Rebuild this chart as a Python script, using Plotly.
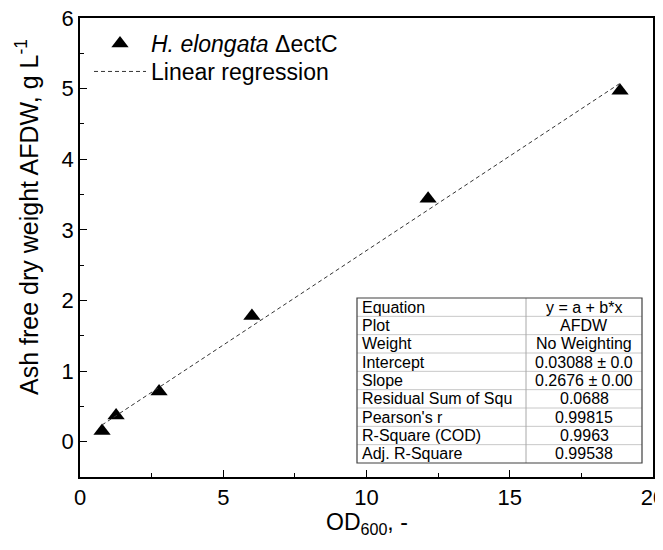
import plotly.graph_objects as go

# data
od600 = [0.77, 1.26, 2.76, 6.0, 12.15, 18.85]
afdw = [0.15, 0.37, 0.71, 1.78, 3.44, 4.97]
intercept = 0.03088
slope = 0.2676

table_labels = ["Equation", "Plot", "Weight", "Intercept", "Slope",
                "Residual Sum of Squ", "Pearson's r", "R-Square (COD)", "Adj. R-Square"]
table_values = ["y = a + b*x", "AFDW", "No Weighting", "0.03088 ± 0.0",
                "0.2676 ± 0.00", "0.0688", "0.99815", "0.9963", "0.99538"]

x_ticks = [0, 5, 10, 15, 20]
y_ticks = [0, 1, 2, 3, 4, 5, 6]

# page offset of the figure div (default body margin)
OFF = 8
W, H = 663, 534
PL, PR, PT, PB = 80, 653, 18, 477          # plot area in page pixels
L, R, T, B = PL - OFF, W - (PR - OFF), PT - OFF, H - (PB - OFF)
pw, ph = W - L - R, H - T - B

def px(x):
    return (x - OFF - L) / pw

def py(y):
    return (H - B - (y - OFF)) / ph

FONT = "Liberation Sans, Arial, sans-serif"

fig = go.Figure()
fig.add_trace(go.Scatter(
    x=od600, y=afdw, mode="markers",
    marker=dict(symbol="triangle-up", size=15, color="black"),
    name="<i>H. elongata</i> ΔectC", legend="legend"))
xf = [min(od600), max(od600)]
yf = [intercept + slope * v for v in xf]
fig.add_trace(go.Scatter(
    x=xf, y=yf, mode="lines",
    line=dict(color="#333333", width=1, dash="4px,3px"),
    name="Linear regression", legend="legend2"))

axis_common = dict(
    showgrid=False, zeroline=False, showline=True, linecolor="black", linewidth=1.6,
    mirror=True, ticks="inside", ticklen=7, tickwidth=1.3, tickcolor="black",
    tickfont=dict(family=FONT, size=22, color="black"), automargin=False,
    ticklabeloverflow="allow",
)
fig.update_xaxes(range=[0, 20], tickvals=x_ticks,
                 minor=dict(dtick=2.5, ticks="inside", ticklen=4, tickcolor="black", tickwidth=1.3),
                 **axis_common)
fig.update_yaxes(range=[-0.5, 6], tickvals=y_ticks,
                 minor=dict(dtick=0.5, ticks="inside", ticklen=4, tickcolor="black", tickwidth=1.3),
                 **axis_common)

# table
tx0, tx1, tsplit = 357, 642, 526
ty0, ty1 = 298, 463
n = len(table_labels)
rh = (ty1 - ty0) / n
shapes = []
shapes.append(dict(type="rect", xref="paper", yref="paper",
                   x0=px(tx0), x1=px(tx1), y0=py(ty1), y1=py(ty0),
                   fillcolor="white", line=dict(width=0), layer="above"))
for i in range(1, n):
    yy = py(ty0 + i * rh)
    shapes.append(dict(type="line", xref="paper", yref="paper",
                       x0=px(tx0), x1=px(tx1), y0=yy, y1=yy,
                       line=dict(color="#c8c8c8", width=1), layer="above"))
shapes.append(dict(type="line", xref="paper", yref="paper",
                   x0=px(tsplit), x1=px(tsplit), y0=py(ty1), y1=py(ty0),
                   line=dict(color="#a8a8a8", width=1), layer="above"))
shapes.append(dict(type="rect", xref="paper", yref="paper",
                   x0=px(tx0), x1=px(tx1), y0=py(ty1), y1=py(ty0),
                   line=dict(color="#404040", width=1.2), layer="above"))
annotations = []
for i, (lab, val) in enumerate(zip(table_labels, table_values)):
    yc = py(ty0 + (i + 0.5) * rh)
    annotations.append(dict(x=px(tx0 + 3), y=yc, xref="paper", yref="paper", text=lab,
                            showarrow=False, xanchor="left", yanchor="middle",
                            font=dict(family=FONT, size=16, color="black")))
    annotations.append(dict(x=px((tsplit + tx1) / 2), y=yc, xref="paper", yref="paper", text=val,
                            showarrow=False, xanchor="center", yanchor="middle",
                            font=dict(family=FONT, size=16, color="black")))

# axis titles
annotations.append(dict(x=px(367), y=py(523), xref="paper", yref="paper",
                        text="OD<sub>600</sub>, -", showarrow=False,
                        xanchor="center", yanchor="middle",
                        font=dict(family=FONT, size=23, color="black")))
annotations.append(dict(x=px(27), y=py(217), xref="paper", yref="paper",
                        text="Ash free dry weight AFDW, g L<sup>-1</sup>", showarrow=False,
                        textangle=-90, xanchor="center", yanchor="middle",
                        font=dict(family=FONT, size=25, color="black")))

leg_common = dict(xanchor="left", yanchor="top",
                  font=dict(family=FONT, size=23, color="black"),
                  bgcolor="rgba(0,0,0,0)", tracegroupgap=0, itemwidth=52)
fig.update_layout(
    width=W, height=H, margin=dict(l=L, r=R, t=T, b=B),
    paper_bgcolor="white", plot_bgcolor="white",
    shapes=shapes, annotations=annotations,
    legend=dict(x=px(89), y=py(22), **leg_common),
    legend2=dict(x=px(89), y=py(50), **leg_common),
    showlegend=True,
)
fig.write_html("out.html")
